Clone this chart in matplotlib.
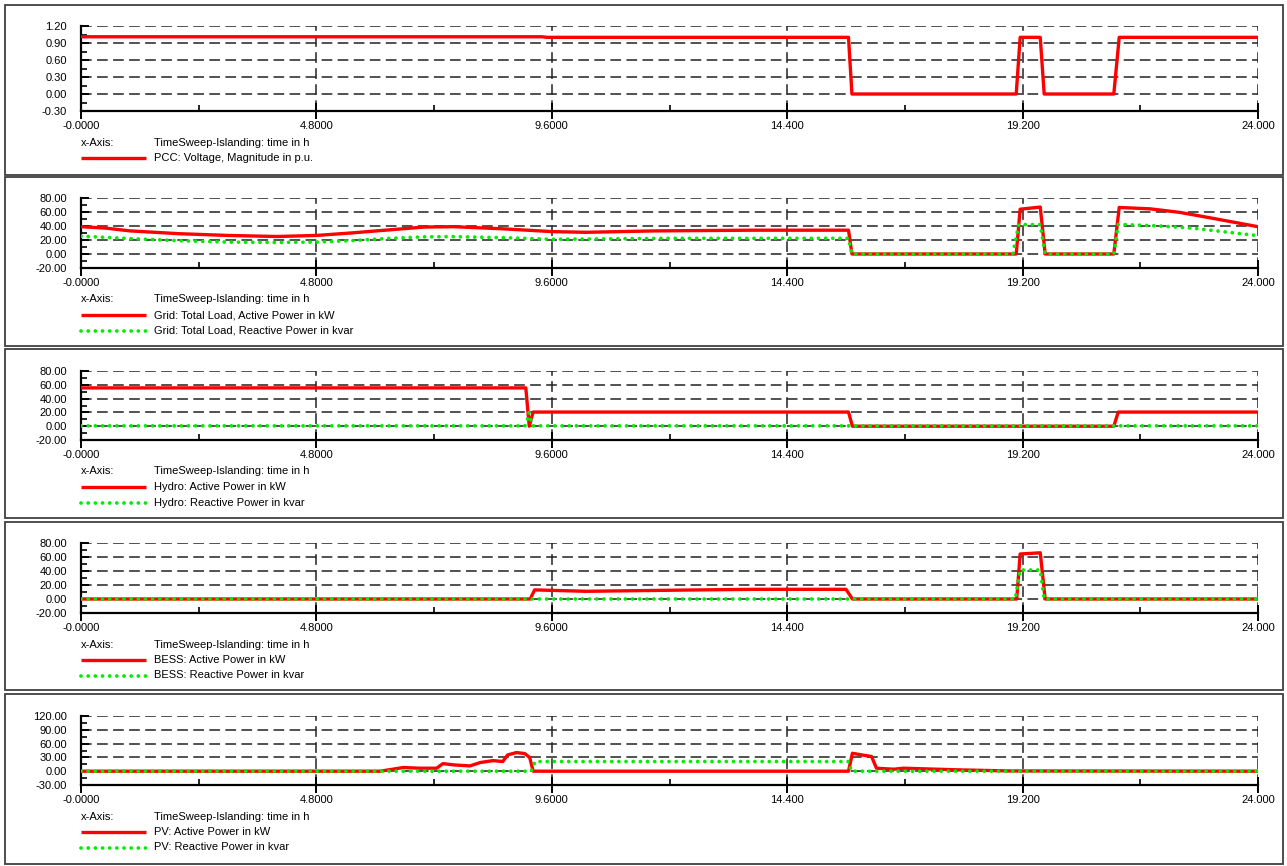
import matplotlib
matplotlib.use("Agg")
import matplotlib.pyplot as plt
from matplotlib.lines import Line2D
from matplotlib.patches import Rectangle
from matplotlib.ticker import MultipleLocator, FixedLocator, FormatStrFormatter

plt.rcParams['font.family'] = ['Liberation Sans', 'DejaVu Sans']

# ---- data (time in h) ----
x_ticks = [0, 4.8, 9.6, 14.4, 19.2, 24.0]
x_tick_labels = ['-0.0000', '4.8000', '9.6000', '14.400', '19.200', '24.000']
x_axis_label = 'TimeSweep-Islanding: time in h'

pcc_t = [0, 9.4, 9.5, 15.65, 15.72, 19.07, 19.15, 19.56, 19.64, 21.06, 21.17, 24]
pcc_u = [1.01, 1.01, 1.00, 1.00, 0.0, 0.0, 1.0, 1.0, 0.0, 0.0, 1.0, 1.0]

grid_p_t = [0, 0.5, 1, 2, 3, 4, 4.8, 5.5, 6.2, 7.0, 7.6, 8.6, 9.6, 10.3, 11.7, 13.7,
            15.65, 15.72, 19.07, 19.15, 19.56, 19.66, 21.06, 21.17, 21.8, 22.4, 23.0, 23.5, 24]
grid_p = [39, 37, 33, 29, 26.5, 25, 26.5, 30, 34, 38.5, 39, 36, 32, 31, 33, 34,
          34, 0, 0, 64, 67, 0, 0, 66.5, 64.5, 59.5, 52, 45.5, 39]
grid_q_t = [0, 1, 2, 3, 4, 4.8, 5.5, 6.2, 7.0, 7.6, 8.6, 9.6, 10.5, 12, 15.65, 15.72,
            19.0, 19.12, 19.56, 19.66, 21.06, 21.15, 22.0, 22.7, 23.4, 24]
grid_q = [25.5, 22, 19, 17, 16.5, 17, 19, 22, 24.5, 24.8, 23.3, 21, 21.5, 22.4, 22.4, 0,
          0, 42, 42, 0, 0, 42.4, 40, 36.7, 31, 26.2]

hydro_p_t = [0, 9.07, 9.14, 9.22, 15.65, 15.73, 21.06, 21.15, 24]
hydro_p = [55.5, 55.5, 0, 20.5, 20.5, 0, 0, 20.5, 20.5]
hydro_q_t = [0, 9.05, 9.1, 9.13, 9.17, 9.21, 24]
hydro_q = [0.5, 0.5, 8, 20, 10, 0.5, 0.5]

bess_p_t = [0, 9.16, 9.25, 10.3, 12.35, 13.7, 15.6, 15.73, 19.08, 19.15, 19.56, 19.66, 24]
bess_p = [0, 0, 13, 11, 12.8, 13.8, 13.8, 0, 0, 64.3, 66, 0, 0]
bess_q_t = [0, 19.05, 19.15, 19.56, 19.64, 24]
bess_q = [0, 0, 41.5, 41.5, 0, 0]

pv_p_t = [0, 6.1, 6.57, 6.9, 7.25, 7.38, 7.6, 7.93, 8.14, 8.4, 8.6, 8.7, 8.88, 9.05, 9.15, 9.22,
          15.65, 15.73, 15.95, 16.12, 16.22, 16.57, 16.77, 17.93, 18.95, 24]
pv_p = [0, 0, 8, 6.5, 6.5, 16.5, 13.7, 11.5, 18.8, 23, 21, 35.4, 40.5, 38.3, 29.6, 0,
        0, 39, 34.8, 32, 6.5, 4.3, 6.5, 2.8, 0.5, 0]
pv_q_t = [0, 9.18, 9.26, 15.65, 15.71, 24]
pv_q = [0, 0, 21, 21, 0, 0]

# ---- layout (pixels) ----
W, H = 1287, 866
fig = plt.figure(figsize=(W / 100, H / 100), dpi=100)

def fx(p):
    return p / W

def fy(p):
    return 1 - p / H

RED = dict(color='#ff0000', lw=2.4, solid_capstyle='butt')
GREEN = dict(color='#00ee00', lw=2.7, linestyle=(0, (0.01, 1.9)), dash_capstyle='round')

panels = [
    dict(box=(5, 175), ax=(26, 111), ylim=(-0.3, 1.2), step=0.3,
         series=[(pcc_t, pcc_u, RED, 'PCC: Voltage, Magnitude in p.u.')]),
    dict(box=(177, 346), ax=(198, 268), ylim=(-20, 80), step=20,
         series=[(grid_p_t, grid_p, RED, 'Grid: Total Load, Active Power in kW'),
                 (grid_q_t, grid_q, GREEN, 'Grid: Total Load, Reactive Power in kvar')]),
    dict(box=(349, 518), ax=(371, 440), ylim=(-20, 80), step=20,
         series=[(hydro_p_t, hydro_p, RED, 'Hydro: Active Power in kW'),
                 (hydro_q_t, hydro_q, GREEN, 'Hydro: Reactive Power in kvar')]),
    dict(box=(522, 690), ax=(543, 613), ylim=(-20, 80), step=20,
         series=[(bess_p_t, bess_p, RED, 'BESS: Active Power in kW'),
                 (bess_q_t, bess_q, GREEN, 'BESS: Reactive Power in kvar')]),
    dict(box=(694, 864), ax=(716, 785), ylim=(-30, 120), step=30,
         series=[(pv_p_t, pv_p, RED, 'PV: Active Power in kW'),
                 (pv_q_t, pv_q, GREEN, 'PV: Reactive Power in kvar')]),
]

AX_L, AX_R = 81, 1258
BOX_L, BOX_R = 5, 1283
FS = 8
GRID = dict(color='#222222', lw=1.1, linestyle=(0, (7, 3.5)))

for p in panels:
    bt, bb = p['box']
    fig.patches.append(Rectangle((fx(BOX_L), fy(bb)), fx(BOX_R - BOX_L), (bb - bt) / H,
                                 transform=fig.transFigure, fill=False,
                                 edgecolor='#404040', lw=1.3))
    at, ab = p['ax']
    ax = fig.add_axes([fx(AX_L), fy(ab), fx(AX_R - AX_L), (ab - at) / H])
    y0, y1 = p['ylim']
    ax.set_xlim(0, 24)
    ax.set_ylim(y0, y1)

    # dashed grid including top and right borders
    yt = [y0 + k * p['step'] for k in range(1, int(round((y1 - y0) / p['step'])) + 1)]
    for yv in yt:
        ax.axhline(yv, zorder=1, **GRID)
    for xv in x_ticks[1:]:
        ax.axvline(xv, zorder=1, **GRID)

    for t, v, st, lab in p['series']:
        ax.plot(t, v, zorder=3, **st)

    for s in ['top', 'right']:
        ax.spines[s].set_visible(False)
    for s in ['left', 'bottom']:
        ax.spines[s].set_linewidth(1.6)
        ax.spines[s].set_color('black')

    ax.yaxis.set_major_locator(MultipleLocator(p['step']))
    ax.yaxis.set_minor_locator(MultipleLocator(p['step'] / 2))
    ax.yaxis.set_major_formatter(FormatStrFormatter('%.2f'))
    ax.xaxis.set_major_locator(FixedLocator(x_ticks))
    ax.xaxis.set_minor_locator(FixedLocator([2.4, 7.2, 12.0, 16.8, 21.6]))
    ax.set_xticklabels(x_tick_labels)
    ax.tick_params(axis='x', which='major', direction='inout', length=12, width=1.4,
                   labelsize=FS, color='black', pad=1)
    ax.tick_params(axis='y', which='major', direction='in', length=6, width=1.4,
                   labelsize=FS, color='black', pad=10)
    ax.tick_params(axis='both', which='minor', direction='in', length=4, width=1.2,
                   color='black')
    ax.set_facecolor('none')

    # legend block below the axes
    ya = ab + 31.5
    fig.text(fx(AX_L), fy(ya), 'x-Axis:', fontsize=FS, va='center', ha='left')
    fig.text(fx(154), fy(ya), x_axis_label, fontsize=FS, va='center', ha='left')
    for i, (t, v, st, lab) in enumerate(p['series']):
        yl = ab + 47 + i * 15.5
        fig.lines.append(Line2D([fx(AX_L), fx(146)], [fy(yl), fy(yl)],
                                transform=fig.transFigure, **st))
        fig.text(fx(154), fy(yl), lab, fontsize=FS, va='center', ha='left')

fig.savefig('out.png', dpi=100)
